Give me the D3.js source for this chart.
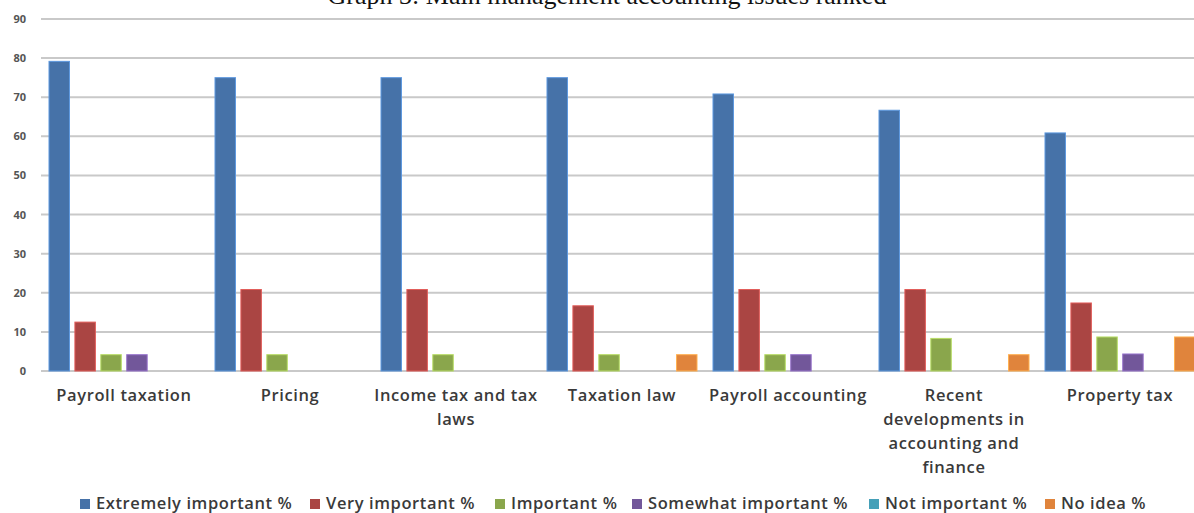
<!DOCTYPE html>
<html>
<head>
<meta charset="utf-8">
<script src="https://cdn.jsdelivr.net/npm/d3@7"></script>
<style>
  html, body { margin: 0; padding: 0; background: #fff; }
  svg { display: block; }
</style>
</head>
<body>
<svg id="chart" width="1194" height="513"></svg>
<script>
// Survey results: share of respondents per importance rating, by issue
const categories = [
  ["Payroll taxation"],
  ["Pricing"],
  ["Income tax and tax", "laws"],
  ["Taxation law"],
  ["Payroll accounting"],
  ["Recent", "developments in", "accounting and", "finance"],
  ["Property tax"]
];
const seriesNames = [
  "Extremely important %",
  "Very important %",
  "Important %",
  "Somewhat important %",
  "Not important %",
  "No idea %"
];
const extremelyImportant = [79.17, 75, 75, 75, 70.83, 66.67, 60.87];
const veryImportant      = [12.5, 20.83, 20.83, 16.67, 20.83, 20.83, 17.39];
const important          = [4.17, 4.17, 4.17, 4.17, 4.17, 8.33, 8.70];
const somewhatImportant  = [4.17, 0, 0, 0, 4.17, 0, 4.35];
const notImportant       = [0, 0, 0, 0, 0, 0, 0];
const noIdea             = [0, 0, 0, 4.17, 0, 4.17, 8.70];
const yTicks = [0, 10, 20, 30, 40, 50, 60, 70, 80, 90];
const colors = ["#4672a8", "#aa4543", "#8aa64c", "#72579a", "#45a0b8", "#e0843c"];
const titleText = "Graph 3: Main management accounting issues ranked";

const seriesValues = [extremelyImportant, veryImportant, important, somewhatImportant, notImportant, noIdea];

const svg = d3.select("#chart");
const plotLeft = 41, groupStep = 166;
const keys = categories.map(c => c.join(" "));
const labelFont = "Open Sans, Lato, sans-serif";

const x0 = d3.scaleBand()
  .domain(keys)
  .range([plotLeft, plotLeft + groupStep * keys.length])
  .padding(0);
const x1 = d3.scaleBand()
  .domain(seriesNames)
  .range([8, 158])
  .paddingInner(0.21)
  .paddingOuter(0);
const y = d3.scaleLinear().domain([0, 90]).range([371, 19]);

// Title (sits partly above the visible area)
svg.append("text")
  .attr("x", 607).attr("y", 4)
  .attr("text-anchor", "middle")
  .attr("font-family", "Liberation Serif, Times New Roman, serif")
  .attr("font-size", 26)
  .attr("fill", "#111")
  .text(titleText);

// Gridlines
svg.append("g").selectAll("line")
  .data(yTicks)
  .join("line")
  .attr("x1", plotLeft).attr("x2", 1194)
  .attr("y1", d => y(d)).attr("y2", d => y(d))
  .attr("stroke", "#c9c9c9")
  .attr("stroke-width", 2);

// Y axis labels
const yAxis = d3.axisLeft(y).tickValues(yTicks).tickSize(0).tickPadding(0);
const yg = svg.append("g").attr("transform", "translate(26,0)").call(yAxis);
yg.select(".domain").remove();
yg.selectAll("text")
  .attr("font-family", labelFont)
  .attr("font-size", 11)
  .attr("font-weight", "bold")
  .attr("fill", "#555");

// Bars
const groups = svg.append("g").selectAll("g")
  .data(keys)
  .join("g")
  .attr("transform", d => `translate(${x0(d)},0)`);

groups.selectAll("rect")
  .data((k, i) => seriesNames.map((s, j) => ({ s, j, v: seriesValues[j][i] })))
  .join("rect")
  .filter(d => d.v > 0)
  .attr("x", d => x1(d.s))
  .attr("width", x1.bandwidth())
  .attr("y", d => y(d.v))
  .attr("height", d => y(0) - y(d.v))
  .attr("fill", d => colors[d.j])
  .attr("stroke", d => d3.color(colors[d.j]).brighter(0.8))
  .attr("stroke-width", 1);

// Category labels
const labels = svg.append("g").selectAll("text")
  .data(categories)
  .join("text")
  .attr("x", (c, i) => x0(keys[i]) + groupStep / 2)
  .attr("y", 401)
  .attr("text-anchor", "middle")
  .attr("font-family", labelFont)
  .attr("font-size", 16.5)
  .attr("font-weight", 600)
  .attr("letter-spacing", 0.6)
  .attr("fill", "#3a3a3a");
labels.selectAll("tspan")
  .data(c => c)
  .join("tspan")
  .attr("x", function () { return d3.select(this.parentNode).attr("x"); })
  .attr("dy", (d, i) => i === 0 ? 0 : 24)
  .text(d => d);

// Legend
const legendX = [80, 310, 495, 632, 869, 1045];
const legend = svg.append("g").selectAll("g")
  .data(seriesNames)
  .join("g")
  .attr("transform", (d, i) => `translate(${legendX[i]},0)`);
legend.append("rect")
  .attr("x", 0).attr("y", 499)
  .attr("width", 10).attr("height", 10)
  .attr("fill", (d, i) => colors[i]);
legend.append("text")
  .attr("x", 16).attr("y", 509)
  .attr("font-family", labelFont)
  .attr("font-size", 16.5)
  .attr("font-weight", 600)
  .attr("letter-spacing", 0.6)
  .attr("fill", "#3a3a3a")
  .text(d => d);
</script>
</body>
</html>
